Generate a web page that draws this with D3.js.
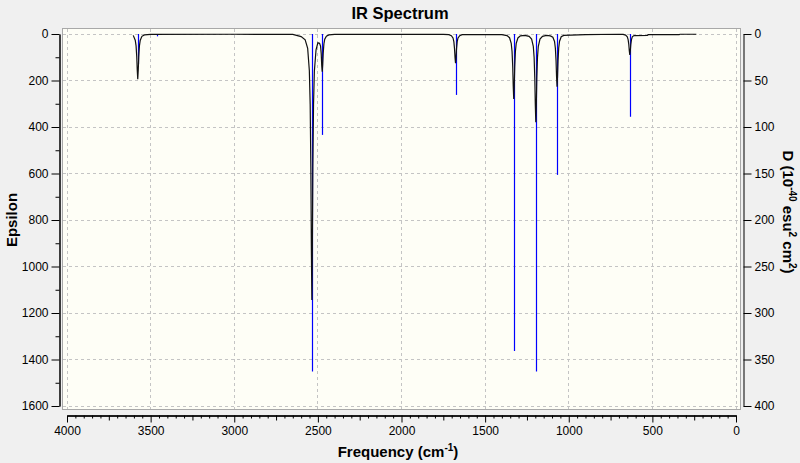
<!DOCTYPE html>
<html>
<head>
<meta charset="utf-8">
<script src="https://cdn.jsdelivr.net/npm/d3@7"></script>
<style>
    body { margin: 0; background: #f0f0f0; }
    svg { display: block; font-family: "Liberation Sans", Arial, sans-serif; }
    .axis text { font-size: 12px; fill: #000; }
    .axis path, .axis line { stroke: #000; }
</style>
</head>
<body>
<svg id="chart" width="800" height="463"></svg>
<script>
// stick spectrum (frequency in cm-1, height on the epsilon scale)
const stickFreq = [3577, 3464, 2536, 2474, 1677, 1329, 1197, 1070, 635];
const stickEps = [130, 10, 1452, 434, 262, 1363, 1452, 606, 356];

// broadened curve: [frequency, epsilon]
const curvePts = [
    [3604, 6], [3592, 27], [3587, 51], [3583, 97], [3580, 155], [3577, 194],
    [3574, 155], [3571, 97], [3567, 51], [3562, 27], [3552, 10], [3537, 4],
    [3500, 2], [3000, 1], [2650, 2], [2600, 11], [2576, 25], [2561, 62],
    [2551, 158], [2546, 303], [2542, 572], [2539, 915], [2536, 1144],
    [2533, 915], [2530, 572], [2526, 303], [2521, 160], [2511, 68],
    [2500, 38], [2490, 40], [2484, 52], [2480, 85], [2477, 135], [2474, 162],
    [2471, 130], [2468, 81], [2464, 43], [2459, 22], [2449, 9], [2434, 4],
    [2400, 2], [1750, 2], [1717, 3], [1702, 7], [1692, 17], [1687, 33],
    [1683, 63], [1680, 101], [1677, 126], [1674, 101], [1671, 63], [1667, 33],
    [1662, 17], [1652, 7], [1637, 3], [1400, 3], [1369, 7], [1354, 16],
    [1344, 40], [1339, 75], [1335, 140], [1332, 224], [1329, 280], [1326, 224],
    [1323, 140], [1319, 75], [1314, 40], [1304, 17], [1289, 8], [1263, 6],
    [1237, 10], [1222, 22], [1212, 53], [1207, 101], [1203, 190], [1200, 303],
    [1197, 379], [1194, 303], [1191, 190], [1187, 101], [1182, 53], [1172, 22],
    [1157, 10], [1133, 6], [1110, 8], [1095, 14], [1085, 32], [1080, 61],
    [1076, 114], [1073, 182], [1070, 227], [1067, 182], [1064, 114], [1060, 60],
    [1055, 31], [1045, 12], [1030, 6], [900, 3], [700, 1], [675, 2], [660, 5],
    [650, 12], [645, 24], [641, 45], [638, 72], [635, 90], [632, 72], [629, 45],
    [625, 24], [620, 12], [610, 7], [530, 6], [525, 3], [340, 3], [335, 1], [237, 1]
];

const xTicks = [4000, 3500, 3000, 2500, 2000, 1500, 1000, 500, 0];
const epsTicks = [0, 200, 400, 600, 800, 1000, 1200, 1400, 1600];
const dTicks = [0, 50, 100, 150, 200, 250, 300, 350, 400];

const svg = d3.select("#chart");
const fmt = d3.format("d");

// plot frame
svg.append("rect")
    .attr("x", 62.5).attr("y", 28.5)
    .attr("width", 678).attr("height", 381)
    .attr("fill", "#fefef6")
    .attr("stroke", "#a8a8a8");

const x = d3.scaleLinear().domain([4000, 0]).range([67, 736]);
const y = d3.scaleLinear().domain([0, 1600]).range([34, 406]);
const yD = d3.scaleLinear().domain([0, 400]).range([34, 406]);

// dashed grid
const grid = svg.append("g")
    .attr("stroke", "#c4c4c4")
    .attr("stroke-dasharray", "3,3")
    .attr("shape-rendering", "crispEdges");
grid.selectAll(".vg").data(xTicks).enter().append("line")
    .attr("x1", d => x(d)).attr("x2", d => x(d))
    .attr("y1", 29).attr("y2", 409);
grid.selectAll(".hg").data(epsTicks).enter().append("line")
    .attr("y1", d => y(d)).attr("y2", d => y(d))
    .attr("x1", 63).attr("x2", 740);

// blue sticks
svg.append("g")
    .selectAll("line")
    .data(stickFreq)
    .enter()
    .append("line")
    .attr("x1", d => Math.round(x(d)) + 0.5)
    .attr("x2", d => Math.round(x(d)) + 0.5)
    .attr("y1", y(0))
    .attr("y2", (d, i) => y(stickEps[i]))
    .attr("stroke", "#0000ff")
    .attr("stroke-width", 1.2);

// black broadened spectrum on top
const line = d3.line()
    .x(d => x(d[0]))
    .y(d => y(d[1]));
svg.append("path")
    .datum(curvePts)
    .attr("d", line)
    .attr("fill", "none")
    .attr("stroke", "#111")
    .attr("stroke-width", 1.2);

// bottom axis: major, medium and minor ticks
const minorX = d3.range(0, 4001, 50);
svg.append("g")
    .attr("class", "axis")
    .attr("transform", "translate(0,415.5)")
    .call(d3.axisBottom(x).tickValues(minorX.filter(d => d % 250 !== 0))
        .tickSize(3).tickSizeOuter(0).tickFormat(""));
svg.append("g")
    .attr("class", "axis")
    .attr("transform", "translate(0,415.5)")
    .call(d3.axisBottom(x).tickValues([3750, 3250, 2750, 2250, 1750, 1250, 750, 250])
        .tickSize(5).tickSizeOuter(0).tickFormat(""));
svg.append("g")
    .attr("class", "axis")
    .attr("transform", "translate(0,415.5)")
    .call(d3.axisBottom(x).tickValues(xTicks).tickFormat(fmt)
        .tickSize(7).tickSizeOuter(0).tickPadding(4));

// left axis
svg.append("g")
    .attr("class", "axis")
    .attr("transform", "translate(59.5,0)")
    .call(d3.axisLeft(y).tickValues(d3.range(100, 1600, 200))
        .tickSize(4).tickSizeOuter(0).tickFormat(""));
svg.append("g")
    .attr("class", "axis")
    .attr("transform", "translate(59.5,0)")
    .call(d3.axisLeft(y).tickValues(epsTicks).tickFormat(fmt)
        .tickSize(8).tickSizeOuter(0).tickPadding(3));

// right axis
svg.append("g")
    .attr("class", "axis")
    .attr("transform", "translate(743.5,0)")
    .call(d3.axisRight(yD).tickValues(dTicks).tickFormat(fmt)
        .tickSize(8).tickSizeOuter(0).tickPadding(3));

// titles
svg.append("text")
    .attr("x", 400).attr("y", 19)
    .attr("text-anchor", "middle")
    .attr("font-size", "16.5px")
    .attr("font-weight", "bold")
    .text("IR Spectrum");

const xl = svg.append("text")
    .attr("x", 398).attr("y", 457)
    .attr("text-anchor", "middle")
    .attr("font-size", "15px")
    .attr("font-weight", "bold");
xl.append("tspan").text("Frequency (cm");
xl.append("tspan").attr("dy", -6).attr("font-size", "10px").text("-1");
xl.append("tspan").attr("dy", 6).text(")");

svg.append("text")
    .attr("transform", "translate(17,220) rotate(-90)")
    .attr("text-anchor", "middle")
    .attr("font-size", "15px")
    .attr("font-weight", "bold")
    .text("Epsilon");

const yr = svg.append("text")
    .attr("transform", "translate(783,212) rotate(90)")
    .attr("text-anchor", "middle")
    .attr("font-size", "15px")
    .attr("font-weight", "bold");
yr.append("tspan").text("D (10");
yr.append("tspan").attr("dy", -6).attr("font-size", "10px").text("-40");
yr.append("tspan").attr("dy", 6).text(" esu");
yr.append("tspan").attr("dy", -6).attr("font-size", "10px").text("2");
yr.append("tspan").attr("dy", 6).text(" cm");
yr.append("tspan").attr("dy", -6).attr("font-size", "10px").text("2");
yr.append("tspan").attr("dy", 6).text(")");
</script>
</body>
</html>
